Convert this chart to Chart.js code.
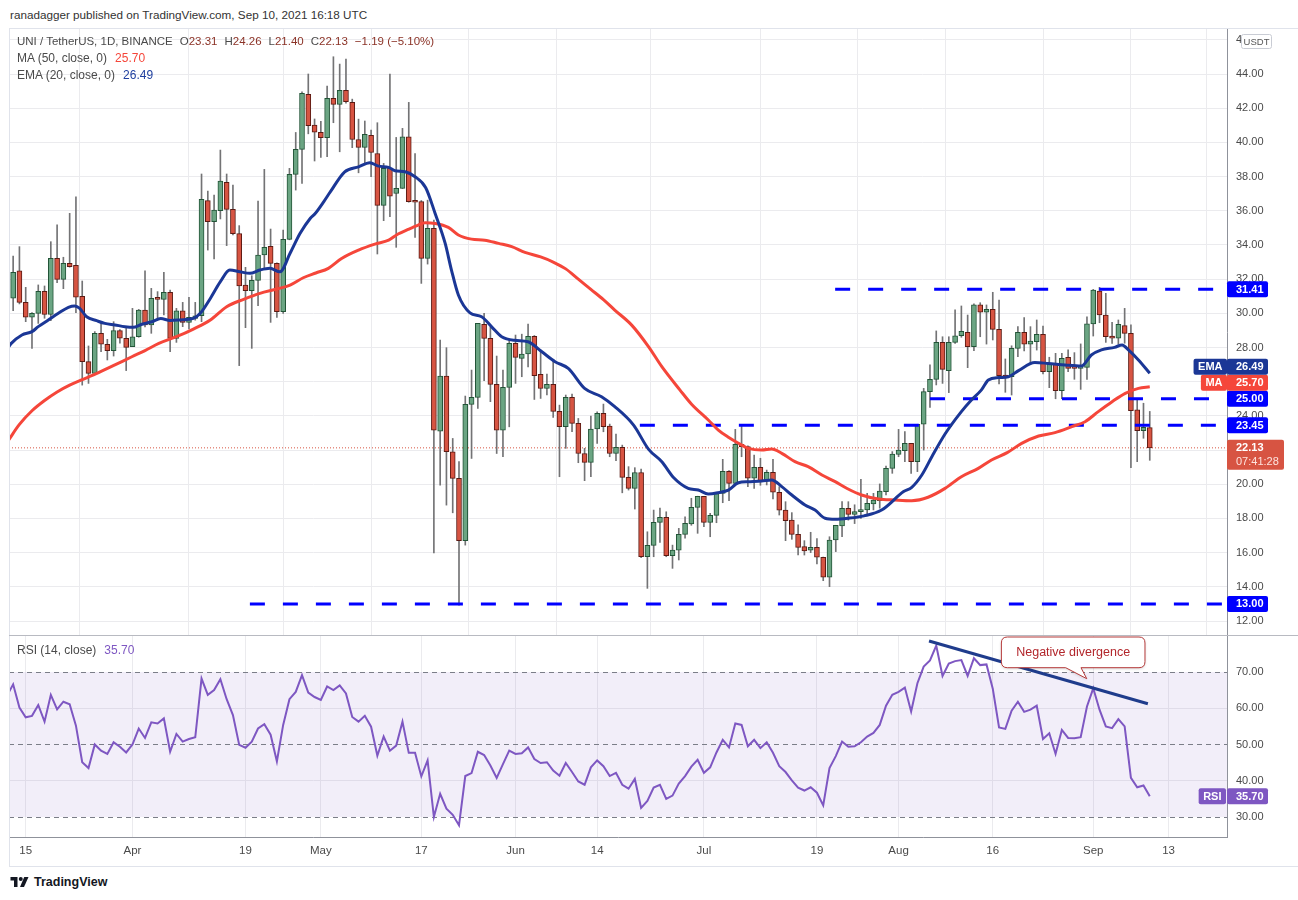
<!DOCTYPE html>
<html>
<head>
<meta charset="utf-8">
<script src="https://cdn.jsdelivr.net/npm/chart.js@4.4.1/dist/chart.umd.min.js"></script>
<style>
html,body{margin:0;padding:0;background:#fff;width:1298px;height:900px;overflow:hidden;font-family:"Liberation Sans",Arial,sans-serif;}
canvas{position:absolute;left:0;}
#main{top:28px;}
#rsi{top:636px;}
.t{position:absolute;white-space:nowrap;font-size:12px;line-height:17px;color:#4a4a4a;}
.g{margin-left:8px;}
.g2{margin-left:7px;}
.dn{color:#8b3226;}
.line{position:absolute;pointer-events:none;}
</style>
</head>
<body>
<canvas id="main" width="1298" height="608"></canvas>
<canvas id="rsi" width="1298" height="230"></canvas>

<div class="line" style="left:9px;top:28px;width:1288px;height:837px;border:1px solid #e0e3eb;"></div>
<div class="line" style="left:9px;top:635px;width:1289px;height:1px;background:#b8bac1;"></div>

<div class="t" style="left:10px;top:6px;font-size:11.7px;color:#333;">ranadagger published on TradingView.com, Sep 10, 2021 16:18 UTC</div>
<div class="t" style="left:17px;top:33px;font-size:11.5px;">UNI / TetherUS, 1D, BINANCE<span class="g2">O</span><span class="dn">23.31</span><span class="g2">H</span><span class="dn">24.26</span><span class="g2">L</span><span class="dn">21.40</span><span class="g2">C</span><span class="dn">22.13</span><span class="g2 dn">−1.19 (−5.10%)</span></div>
<div class="t" style="left:17px;top:50px;">MA (50, close, 0)<span class="g" style="color:#f5463a;">25.70</span></div>
<div class="t" style="left:17px;top:67px;">EMA (20, close, 0)<span class="g" style="color:#1f3f9f;">26.49</span></div>
<div class="t" style="left:17px;top:642px;">RSI (14, close)<span class="g" style="color:#7e57c2;">35.70</span></div>

<div style="position:absolute;left:10px;top:875px;display:flex;align-items:center;">
<svg width="19" height="14" viewBox="0 0 36 28"><path d="M14 24H7V11H0V4h14z" fill="#131722"/><circle cx="20.5" cy="8" r="4" fill="#131722"/><path d="M27 24h-8l8.5-20h8.5z" fill="#131722"/></svg>
<span style="font-weight:bold;font-size:12.5px;color:#131722;margin-left:5px;">TradingView</span>
</div>

<script>
// ---------- data ----------
const FIRST_DAY = -2;          // day index of first candle (0 = Mar 15, 2021)
const open = [
30.88,32.48,30.64,29.77,30.00,31.29,29.94,33.22,31.99,32.92,
32.81,31.00,27.17,26.49,28.83,28.19,27.82,28.99,28.54,28.05,
28.63,30.19,29.32,30.90,30.82,31.23,28.53,30.15,29.47,29.70,
29.86,36.59,35.36,36.00,37.66,36.08,34.66,31.65,31.32,31.93,
33.41,33.92,32.92,30.09,34.33,38.13,39.59,42.81,41.01,40.59,
40.27,42.57,42.22,43.04,42.34,40.17,39.71,40.41,39.35,36.31,
38.48,37.01,37.31,40.33,36.55,36.53,33.21,34.97,23.11,26.33,
21.90,20.34,16.70,24.67,25.08,29.35,28.53,25.84,23.17,25.67,
28.24,27.36,27.62,28.65,26.43,25.60,25.84,24.26,23.37,25.08,
23.56,21.80,21.28,23.23,24.15,23.40,21.80,22.16,20.40,19.76,
20.69,15.76,16.42,17.77,18.06,15.82,16.15,17.07,17.68,18.65,
19.29,17.77,18.18,19.47,20.76,20.05,22.34,22.20,20.35,20.99,
20.21,20.70,19.53,18.49,17.91,17.07,16.35,16.15,16.31,15.73,
14.56,16.74,17.56,18.59,18.24,18.40,18.50,18.85,19.04,19.57,
20.93,21.75,21.97,22.39,21.32,23.51,25.42,26.14,28.30,26.65,
28.30,28.69,28.89,28.05,30.49,30.06,30.23,29.06,26.39,26.29,
27.95,28.89,28.19,28.34,28.77,26.59,27.02,25.48,27.43,26.88,
26.78,26.84,29.38,31.30,29.90,28.67,28.54,29.28,28.83,24.35,
23.14,23.31];
const high = [
33.35,33.90,31.52,30.05,31.66,31.60,34.19,35.17,33.28,35.85,
36.82,31.89,28.09,28.93,29.51,28.48,29.51,29.05,29.12,30.29,
30.23,32.48,31.46,31.27,32.40,31.36,30.29,30.64,30.93,30.64,
38.15,37.15,36.92,39.55,38.15,37.50,35.13,32.69,32.20,36.57,
38.42,34.93,32.95,34.87,38.48,40.58,42.96,44.00,41.37,41.23,
43.29,45.01,44.58,44.87,42.53,41.36,41.25,40.72,41.15,38.77,
44.00,40.29,40.82,42.34,39.35,36.60,36.62,35.45,28.43,27.99,
22.68,21.32,25.16,26.68,29.41,30.00,29.20,27.50,26.68,28.43,
28.73,28.78,29.37,28.70,27.85,26.45,27.27,24.63,25.22,25.28,
23.85,22.10,23.99,24.24,24.69,23.52,22.94,22.29,21.03,20.97,
20.89,17.22,18.49,18.61,18.39,16.44,17.42,18.10,19.18,19.30,
19.30,18.30,19.47,21.46,20.80,23.21,23.47,22.25,21.71,21.52,
20.83,21.46,19.86,18.98,18.34,17.62,16.70,17.19,16.82,15.74,
16.93,17.60,18.98,18.98,18.80,20.29,19.47,19.47,20.02,21.07,
21.91,23.21,23.08,22.40,23.51,25.61,26.98,28.97,28.63,28.63,
30.20,30.43,29.90,30.55,30.62,30.49,31.23,30.78,27.33,28.10,
29.22,29.75,29.22,29.61,29.26,27.43,27.66,27.66,27.86,27.70,
28.21,29.80,31.40,31.52,31.17,29.47,29.61,30.29,29.32,24.99,
24.74,24.26];
const low = [
30.16,30.55,29.51,27.95,29.41,29.71,29.57,31.79,31.44,32.70,
30.04,25.80,25.90,26.45,27.76,27.27,27.50,28.25,26.65,28.38,
28.60,29.20,28.83,29.61,29.90,27.75,28.30,29.22,29.08,29.60,
29.51,33.70,33.18,35.52,33.96,34.58,26.94,29.16,27.95,30.45,
32.63,29.47,29.76,29.99,34.30,37.21,37.60,40.50,38.91,39.12,
39.16,41.15,39.45,42.30,39.69,38.22,38.77,37.99,33.47,35.42,
35.65,33.86,37.30,36.50,34.44,31.75,32.88,15.99,19.95,18.78,
18.33,12.93,16.44,21.51,24.44,26.06,24.83,21.80,21.61,23.36,
25.90,26.29,26.87,24.96,25.02,25.22,23.91,20.44,22.10,23.07,
21.26,20.21,20.44,22.39,23.07,21.61,21.38,19.50,19.66,18.55,
15.70,13.91,15.76,16.60,15.76,15.08,15.57,16.84,17.60,17.13,
17.52,16.93,17.75,18.92,19.04,20.00,21.61,19.86,19.76,19.94,
19.96,19.14,18.20,16.70,16.78,15.86,15.86,16.00,15.34,14.36,
14.01,16.06,16.93,17.90,17.70,18.00,18.20,18.50,18.60,19.37,
20.64,21.61,21.32,20.64,20.74,22.00,24.50,25.81,25.90,25.36,
28.24,28.60,26.82,27.82,28.63,28.20,28.44,25.87,25.38,25.22,
27.46,27.80,27.07,27.85,26.45,25.65,25.00,25.00,26.59,26.14,
25.55,26.14,28.67,29.45,28.30,28.24,28.19,28.25,20.97,21.32,
22.69,21.40];
const close = [
32.40,30.64,29.77,30.00,31.29,29.94,33.22,31.99,32.92,32.73,
30.94,27.17,26.49,28.83,28.19,27.82,28.99,28.54,28.01,28.63,
30.19,29.32,30.88,30.82,31.23,28.53,30.15,29.47,29.76,29.86,
36.67,35.36,36.04,37.74,36.08,34.66,31.60,31.32,31.93,33.41,
33.86,32.92,30.09,34.33,38.13,39.59,42.87,40.98,40.59,40.27,
42.57,42.22,43.04,42.38,40.17,39.71,40.47,39.41,36.31,38.48,
36.86,37.31,40.33,36.53,36.50,33.21,34.97,23.17,26.33,21.90,
20.34,16.70,24.67,25.08,29.41,28.53,25.84,23.17,25.67,28.24,
27.42,27.62,28.65,26.35,25.60,25.84,24.26,23.37,25.08,23.56,
21.80,21.28,23.23,24.15,23.37,21.80,22.16,20.40,19.76,20.69,
15.76,16.42,17.77,18.06,15.82,16.15,17.07,17.71,18.65,19.29,
17.77,18.18,19.45,20.76,20.05,22.34,22.20,20.35,20.99,20.21,
20.70,19.53,18.49,17.87,17.07,16.31,16.10,16.31,15.73,14.56,
16.74,17.60,18.59,18.24,18.40,18.50,18.88,19.08,19.60,20.93,
21.77,22.00,22.39,21.32,23.51,25.42,26.14,28.30,26.72,28.30,
28.69,28.95,28.05,30.49,30.06,30.23,29.06,26.35,26.26,27.95,
28.89,28.19,28.38,28.77,26.59,27.02,25.48,27.37,26.78,26.78,
26.88,29.38,31.36,29.90,28.63,28.54,29.36,28.83,24.31,23.14,
23.33,22.13];

// EMA 20 and MA 50: [day, value]
const ema20 = [[-2.7,28.05],[-2.3,28.24],[-0.6,28.73],[1,28.93],[2,29.22],[3.6,29.61],[5.2,30.0],[6.8,30.35],[7.8,30.43],[8.6,30.29],[9.7,29.8],[11.3,29.57],[12.6,29.41],[14.2,29.32],[15.8,29.22],[17.1,29.18],[18.5,29.36],[20.1,29.51],[21.5,29.69],[23,29.58],[24.6,29.61],[26.7,29.7],[27.8,30.0],[29.4,30.87],[31,31.85],[32.5,32.53],[34.1,32.43],[35.7,32.34],[37.3,32.53],[38.9,32.63],[40.5,32.43],[42.1,33.51],[43.7,34.68],[45.3,35.55],[46.1,35.84],[47.5,36.55],[48.5,37.1],[50.8,38.28],[53,38.57],[54.8,38.81],[56.2,38.61],[57.8,38.54],[58.8,38.34],[60.4,38.28],[62,37.99],[63.7,37.35],[65.2,35.84],[66.8,34.09],[67.8,32.53],[68.9,31.07],[70.75,30.03],[72.6,29.8],[74.2,29.21],[75.8,28.63],[77.9,28.42],[80,28.34],[82.2,27.75],[84.3,27.17],[86.4,26.78],[89,25.61],[91.7,25.12],[93.8,24.54],[96.8,23.46],[99.2,22.04],[101.3,21.32],[103.2,20.38],[105.5,19.76],[107.1,19.66],[108.7,19.43],[110.3,19.51],[111.9,19.66],[113.5,20.09],[115.1,20.15],[117.2,20.19],[118.8,20.25],[120.4,19.86],[122,19.37],[124.1,18.79],[125.7,18.49],[127.3,18.01],[128.9,17.95],[131,18.01],[133.5,18.15],[136.3,18.49],[139.8,19.57],[141.1,19.82],[142.7,20.54],[144.3,21.61],[146.4,22.94],[149,24.25],[150.6,24.93],[152.2,25.52],[153.3,26.1],[154.9,26.24],[156.5,26.29],[158.1,26.65],[160.7,27.12],[162.8,27.07],[165.5,26.98],[168.1,26.92],[169.7,27.56],[171.3,27.86],[173.4,28.01],[174.6,28.15],[175.6,27.86],[177.2,27.27],[179,26.49]];
const ma50 = [[-2.7,22.6],[-1,23.5],[1,24.3],[3,24.9],[5,25.4],[7,25.8],[8.9,26.1],[11.6,26.53],[14.2,26.98],[16.9,27.46],[19,27.82],[21.2,28.24],[24,28.63],[26.7,29.08],[29.4,29.61],[32,30.39],[34.7,30.82],[37.3,31.17],[40,31.42],[42.1,31.65],[44.2,32.08],[46.2,32.36],[48.2,32.63],[50.3,33.21],[53,33.7],[55.6,34.05],[57.8,34.28],[59.3,34.64],[60.9,34.91],[62.5,35.16],[63.6,35.3],[65.2,35.26],[67.3,35.03],[68.9,34.58],[71,34.34],[73.1,34.28],[75.3,34.09],[77.4,33.9],[79.5,33.56],[82,33.3],[84,33.0],[86,32.6],[88,32.0],[90,31.4],[92,30.8],[93.8,30.19],[96.5,29.31],[99.2,28.04],[101.3,26.88],[104.2,25.51],[106,24.7],[108.7,23.76],[110.3,23.17],[111.9,22.75],[113.5,22.4],[115.1,22.1],[117.2,22.0],[118.8,22.06],[120.4,21.81],[122.5,21.32],[124.6,21.03],[126.8,20.54],[128.9,20.15],[130.8,19.75],[133.1,19.37],[135.8,19.14],[138.4,19.08],[141.1,19.04],[143.7,19.24],[146.4,19.76],[149,20.44],[151.7,20.93],[153.8,21.42],[156.3,21.85],[158.6,22.39],[161.3,22.82],[163.9,23.02],[166.6,23.37],[168.7,23.66],[170.8,24.25],[173,24.83],[175.1,25.32],[177.2,25.61],[179,25.7]];

// horizontal support / resistance levels and the day where each starts
const levels = [31.41, 25.00, 23.45, 13.00];
const levelStart = [128.9, 144, 97.8, 35.7];

// RSI(14)
const RSI_FIRST_DAY = -3;
const rsi = [
63.4,66.6,60.2,57.5,57.9,60.9,56.3,63.7,59.7,61.8,61.1,55.2,45.1,43.5,50.0,48.3,47.4,50.6,49.4,47.8,
50.0,54.4,51.8,56.1,55.8,57.2,48.0,52.9,50.8,51.5,52.0,68.2,63.7,65.0,68.0,62.5,58.1,49.9,49.1,50.8,
54.4,55.6,52.7,45.3,55.4,62.5,64.5,69.1,64.3,63.1,62.3,66.0,65.0,66.3,64.1,57.6,56.3,57.9,54.9,46.9,
52.2,48.3,49.7,56.3,47.7,47.7,41.2,45.6,30.0,36.4,32.3,30.6,27.7,41.3,42.1,48.0,47.1,44.2,40.8,44.6,
48.3,47.4,47.6,49.2,46.0,44.9,45.1,42.8,41.4,44.9,42.4,39.8,38.9,43.7,45.6,44.0,41.3,42.2,38.9,37.8,
40.5,32.5,34.4,38.1,38.9,35.0,35.9,39.2,41.3,43.9,45.8,42.2,43.7,47.8,51.3,49.2,55.8,55.4,49.5,51.3,
49.0,50.6,47.7,44.0,42.4,40.1,38.1,37.3,38.2,36.7,33.2,43.5,46.8,50.8,49.4,49.5,50.6,52.2,53.2,55.4,
60.7,63.7,64.5,65.7,59.1,66.9,71.5,73.2,77.3,68.9,72.3,73.0,73.3,68.9,73.8,71.9,72.1,65.4,54.7,54.3,
59.3,61.8,59.0,59.6,60.7,51.5,53.1,47.4,54.0,51.8,51.7,52.0,60.5,65.5,59.6,55.0,54.5,57.0,55.0,40.8,
38.2,38.7,35.7];
const rsiTrend = [[143.85,78.55],[178.7,61.25]];
const rsiBands = [70, 50, 30];
const callout = {day:168.97, value:68.15, text:'Negative divergence'};

// axis ticks
const tickDays = [0,17,35,47,63,78,91,108,126,139,154,170,182];
const tickLabels = ['15','Apr','19','May','17','Jun','14','Jul','19','Aug','16','Sep','13'];
const priceTicks = [12,14,16,18,20,22,24,26,28,30,32,34,36,38,40,42,44,46];
const rsiTicks = [30,40,50,60,70];

// ---------- styles ----------
const FONT = '"Liberation Sans", Arial, sans-serif';
const X_MIN = -2.66, X_MAX = 191.3;
const P_MIN = 11.123, P_MAX = 46.691;
const R_MIN = 24.48, R_MAX = 79.93;
const UP = '#6ba583', UP_B = '#225437', DN = '#d75442', DN_B = '#5b1a13', WICK = '#737375';
const EMA_C = '#1b3796', MA_C = '#f5463a', LEVEL_C = '#0000ff', RSI_C = '#7e57c2';
const GRID = '#ebebee', AXIS = '#8f929b', TXT = '#4a4a4a';
const AXIS_W = 71, LEFT = 9;

const days = open.map((_, i) => FIRST_DAY + i);
const upFlags = days.map((_, i) => close[i] >= open[i]);

function roundRect(ctx, x, y, w, h, r) {
  ctx.beginPath();
  ctx.moveTo(x + r, y);
  ctx.lineTo(x + w - r, y); ctx.quadraticCurveTo(x + w, y, x + w, y + r);
  ctx.lineTo(x + w, y + h - r); ctx.quadraticCurveTo(x + w, y + h, x + w - r, y + h);
  ctx.lineTo(x + r, y + h); ctx.quadraticCurveTo(x, y + h, x, y + h - r);
  ctx.lineTo(x, y + r); ctx.quadraticCurveTo(x, y, x + r, y);
  ctx.closePath();
}

function drawValueBox(ctx, left, top, w, h, bg, text, sub) {
  ctx.save();
  ctx.fillStyle = bg;
  roundRect(ctx, left, top, w, h, 2);
  ctx.fill();
  ctx.fillStyle = '#fff';
  ctx.font = 'bold 11px ' + FONT;
  ctx.textBaseline = 'middle';
  ctx.textAlign = 'left';
  ctx.fillText(text, left + 9, top + 8.5);
  if (sub) {
    ctx.fillStyle = '#fde3de';
    ctx.font = '11px ' + FONT;
    ctx.fillText(sub, left + 9, top + 22.5);
  }
  ctx.restore();
}
function drawTag(ctx, right, top, h, bg, text) {
  ctx.save();
  ctx.font = 'bold 11px ' + FONT;
  const w = ctx.measureText(text).width + 9;
  ctx.fillStyle = bg;
  roundRect(ctx, right - w, top, w, h, 2);
  ctx.fill();
  ctx.fillStyle = '#fff';
  ctx.textBaseline = 'middle';
  ctx.textAlign = 'center';
  ctx.fillText(text, right - w / 2, top + h / 2 + 0.5);
  ctx.restore();
}

const priceLabels = {
  id: 'priceLabels',
  afterDraw(chart) {
    const { ctx, chartArea: a, scales: { y } } = chart;
    // USDT currency box
    ctx.save();
    ctx.fillStyle = '#fff';
    ctx.strokeStyle = '#c9ccd4';
    ctx.lineWidth = 1;
    roundRect(ctx, 1241.5, 6.5, 30, 14, 2);
    ctx.fill(); ctx.stroke();
    ctx.fillStyle = '#555';
    ctx.font = '9.5px ' + FONT;
    ctx.textAlign = 'center'; ctx.textBaseline = 'middle';
    ctx.fillText('USDT', 1256.5, 14);
    ctx.restore();

    const H = 16;
    const items = [
      { v: levels[0], bg: LEVEL_C },
      { v: ema20[ema20.length - 1][1], bg: EMA_C, tag: 'EMA' },
      { v: ma50[ma50.length - 1][1], bg: MA_C, tag: 'MA' },
      { v: levels[1], bg: LEVEL_C },
      { v: levels[2], bg: LEVEL_C },
      { v: close[close.length - 1], bg: DN, sub: '07:41:28' },
      { v: levels[3], bg: LEVEL_C }
    ];
    items.forEach(it => { it.y = y.getPixelForValue(it.v); });
    items.sort((p, q) => q.y - p.y);
    let limit = Infinity;
    for (const it of items) {
      let top = it.y - H / 2;
      const hh = it.sub ? 30 : H;
      if (top + hh > limit) top = limit - hh;
      it.top = top; it.h = hh; limit = top;
    }
    for (const it of items) {
      drawValueBox(ctx, a.right, it.top, it.sub ? 57 : 41, it.h, it.bg, it.v.toFixed(2), it.sub);
      if (it.tag) drawTag(ctx, a.right, it.top, it.h, it.bg, it.tag);
    }
  }
};

const rsiDecor = {
  id: 'rsiDecor',
  beforeDatasetsDraw(chart) {
    const { ctx, chartArea: a, scales: { y } } = chart;
    ctx.save();
    const y70 = y.getPixelForValue(rsiBands[0]);
    const y30 = y.getPixelForValue(rsiBands[2]);
    ctx.fillStyle = 'rgba(126,87,194,0.1)';
    ctx.fillRect(a.left, y70, a.right - a.left, y30 - y70);
    ctx.strokeStyle = '#7b7e88';
    ctx.lineWidth = 1;
    ctx.setLineDash([5, 4]);
    for (const b of rsiBands) {
      const py = Math.round(y.getPixelForValue(b)) + 0.5;
      ctx.beginPath(); ctx.moveTo(a.left, py); ctx.lineTo(a.right, py); ctx.stroke();
    }
    ctx.restore();
  },
  afterDraw(chart) {
    const { ctx, chartArea: a, scales: { x, y } } = chart;
    // callout
    const tx = x.getPixelForValue(callout.day), ty = y.getPixelForValue(callout.value);
    const L = tx - 85.4, R = tx + 58.2, T = Math.max(ty - 42, 1), B = ty - 11;
    const r = 6;
    ctx.save();
    ctx.shadowColor = 'rgba(0,0,0,0.18)';
    ctx.shadowBlur = 3;
    ctx.shadowOffsetY = 1;
    ctx.beginPath();
    ctx.moveTo(L + r, T);
    ctx.lineTo(R - r, T); ctx.quadraticCurveTo(R, T, R, T + r);
    ctx.lineTo(R, B - r); ctx.quadraticCurveTo(R, B, R - r, B);
    ctx.lineTo(tx - 5.8, B);
    ctx.lineTo(tx, ty);
    ctx.lineTo(tx - 21.1, B);
    ctx.lineTo(L + r, B); ctx.quadraticCurveTo(L, B, L, B - r);
    ctx.lineTo(L, T + r); ctx.quadraticCurveTo(L, T, L + r, T);
    ctx.closePath();
    ctx.fillStyle = '#fff';
    ctx.fill();
    ctx.shadowColor = 'transparent';
    ctx.strokeStyle = '#b53a3a';
    ctx.lineWidth = 1;
    ctx.stroke();
    ctx.fillStyle = '#b2262b';
    ctx.font = '12.5px ' + FONT;
    ctx.textAlign = 'center'; ctx.textBaseline = 'middle';
    ctx.fillText(callout.text, (L + R) / 2, (T + B) / 2 + 0.5);
    ctx.restore();

    // RSI value label
    const last = rsi[rsi.length - 1];
    const top = y.getPixelForValue(last) - 8;
    drawValueBox(ctx, a.right, top, 41, 16, RSI_C, last.toFixed(2));
    drawTag(ctx, a.right - 1, top, 16, RSI_C, 'RSI');
  }
};

const xTicksHook = s => { s.ticks = tickDays.map(v => ({ value: v })); };
const noPad = s => { s.paddingTop = 0; s.paddingBottom = 0; s.paddingLeft = 0; s.paddingRight = 0; };

// ---------- price chart ----------
new Chart(document.getElementById('main'), {
  type: 'bar',
  data: {
    datasets: [
      { type: 'bar', data: days.map((d, i) => ({ x: d, y: [low[i], high[i]] })),
        backgroundColor: WICK, borderWidth: 0, barThickness: 1, grouped: false, order: 6 },
      { type: 'bar', data: days.map((d, i) => ({ x: d, y: [open[i], close[i]] })),
        backgroundColor: upFlags.map(u => u ? UP : DN), borderColor: upFlags.map(u => u ? UP_B : DN_B),
        borderWidth: 1, borderSkipped: false, barThickness: 5, minBarLength: 2, grouped: false, order: 5 },
      { type: 'line', data: [{ x: X_MIN, y: close[close.length - 1] }, { x: X_MAX, y: close[close.length - 1] }],
        borderColor: DN, borderWidth: 1, borderDash: [1, 2], pointRadius: 0, order: 7 },
      ...levels.map((lv, k) => ({
        type: 'line', data: [{ x: levelStart[k], y: lv }, { x: X_MAX, y: lv }],
        borderColor: LEVEL_C, borderWidth: 3, borderDash: [15, 18], borderCapStyle: 'butt', pointRadius: 0, order: 4 })),
      { type: 'line', data: ma50.map(p => ({ x: p[0], y: p[1] })), borderColor: MA_C, borderWidth: 3,
        pointRadius: 0, cubicInterpolationMode: 'monotone', order: 2 },
      { type: 'line', data: ema20.map(p => ({ x: p[0], y: p[1] })), borderColor: EMA_C, borderWidth: 3,
        pointRadius: 0, cubicInterpolationMode: 'monotone', order: 1 }
    ]
  },
  options: {
    responsive: false, animation: false, devicePixelRatio: 1,
    layout: { padding: { left: LEFT, right: 0, top: 0, bottom: 0 } },
    plugins: { legend: { display: false }, tooltip: { enabled: false } },
    scales: {
      x: { type: 'linear', min: X_MIN, max: X_MAX, offset: false,
        afterBuildTicks: xTicksHook,
        ticks: { display: false },
        grid: { color: GRID, drawTicks: false },
        border: { display: false },
        afterFit: s => { s.height = 0; noPad(s); } },
      y: { position: 'right', min: P_MIN, max: P_MAX,
        afterBuildTicks: s => { s.ticks = priceTicks.map(v => ({ value: v })); },
        ticks: { callback: v => Number(v).toFixed(2), color: TXT, font: { size: 11, family: FONT }, padding: 9 },
        grid: { color: GRID, drawTicks: false },
        border: { display: true, color: AXIS },
        afterFit: s => { s.width = AXIS_W; noPad(s); } }
    }
  },
  plugins: [priceLabels]
});

// ---------- RSI chart ----------
new Chart(document.getElementById('rsi'), {
  type: 'line',
  data: {
    datasets: [
      { data: rsi.map((v, i) => ({ x: RSI_FIRST_DAY + i, y: v })), borderColor: RSI_C, borderWidth: 2,
        pointRadius: 0, tension: 0, order: 2 },
      { data: rsiTrend.map(p => ({ x: p[0], y: p[1] })), borderColor: '#1f3c8c', borderWidth: 3,
        pointRadius: 0, order: 1 }
    ]
  },
  options: {
    responsive: false, animation: false, devicePixelRatio: 1,
    layout: { padding: { left: LEFT, right: 0, top: 0, bottom: 0 } },
    plugins: { legend: { display: false }, tooltip: { enabled: false } },
    scales: {
      x: { type: 'linear', min: X_MIN, max: X_MAX, offset: false,
        afterBuildTicks: xTicksHook,
        ticks: { callback: v => { const i = tickDays.indexOf(v); return i >= 0 ? tickLabels[i] : ''; },
          color: TXT, font: { size: 11.5, family: FONT }, padding: 7, maxRotation: 0, autoSkip: false },
        grid: { color: GRID, drawTicks: false },
        border: { display: true, color: AXIS },
        afterFit: s => { s.height = 29; noPad(s); } },
      y: { position: 'right', min: R_MIN, max: R_MAX,
        afterBuildTicks: s => { s.ticks = rsiTicks.map(v => ({ value: v })); },
        ticks: { callback: v => Number(v).toFixed(2), color: TXT, font: { size: 11, family: FONT }, padding: 9 },
        grid: { color: c => (c.tick && rsiBands.includes(c.tick.value)) ? 'rgba(0,0,0,0)' : GRID, drawTicks: false },
        border: { display: true, color: AXIS },
        afterFit: s => { s.width = AXIS_W; noPad(s); } }
    }
  },
  plugins: [rsiDecor]
});
</script>
</body>
</html>
